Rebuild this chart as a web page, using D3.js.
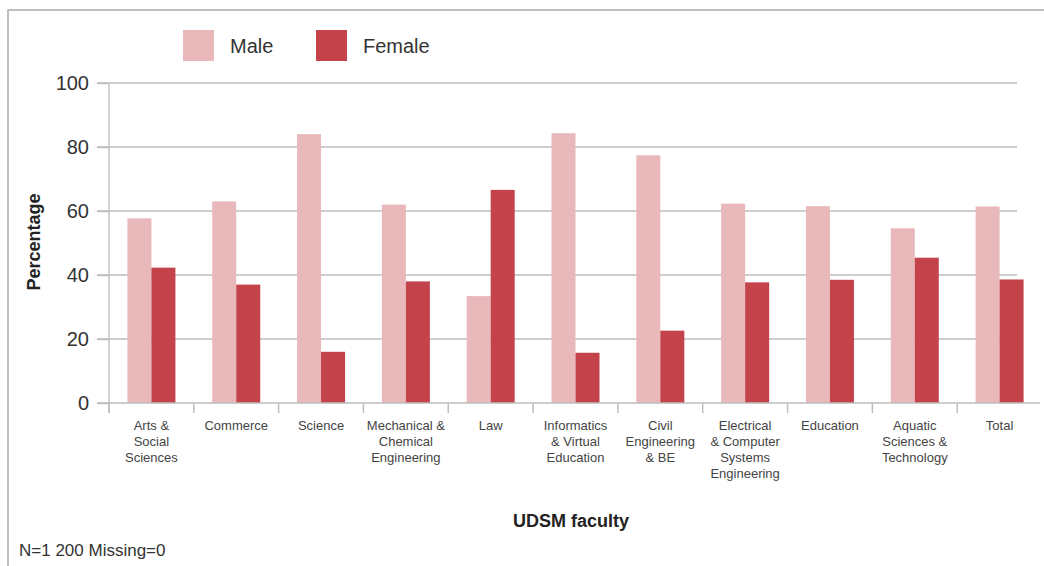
<!DOCTYPE html>
<html>
<head>
<meta charset="utf-8">
<script src="https://cdn.jsdelivr.net/npm/d3@7"></script>
<style>
  body { margin: 0; background: #fff; }
  svg { display: block; font-family: "Liberation Sans", Arial, sans-serif; }
</style>
</head>
<body>
<div id="chart"></div>
<script>
var faculties = [
  ["Arts &", "Social", "Sciences"],
  ["Commerce"],
  ["Science"],
  ["Mechanical &", "Chemical", "Engineering"],
  ["Law"],
  ["Informatics", "& Virtual", "Education"],
  ["Civil", "Engineering", "& BE"],
  ["Electrical", "& Computer", "Systems", "Engineering"],
  ["Education"],
  ["Aquatic", "Sciences &", "Technology"],
  ["Total"]
];
var male   = [57.7, 63.0, 84.0, 62.0, 33.4, 84.3, 77.4, 62.3, 61.5, 54.6, 61.4];
var female = [42.3, 37.0, 16.0, 38.0, 66.6, 15.7, 22.6, 37.7, 38.5, 45.4, 38.6];
var yTicks = [0, 20, 40, 60, 80, 100];
var seriesNames = ["Male", "Female"];
var colors = ["#e8b8bb", "#c4424a"];

var W = 1044, H = 566;
var plotLeft = 109, plotRight = 1042, plotTop = 83, plotBottom = 403;

var svg = d3.select("#chart").append("svg")
    .attr("width", W)
    .attr("height", H);

// frame
svg.append("path")
    .attr("d", "M8,566 L8,10 L1044,10")
    .attr("fill", "none")
    .attr("stroke", "#aaa")
    .attr("stroke-width", 1.5);

var x = d3.scaleBand()
    .domain(d3.range(faculties.length))
    .range([plotLeft, plotRight])
    .paddingInner(0.434)
    .paddingOuter(0.217);

var step = x.step();
var xSub = d3.scaleBand()
    .domain([0, 1])
    .range([0, x.bandwidth()]);

var y = d3.scaleLinear()
    .domain([0, 100])
    .range([plotBottom, plotTop]);

// gridlines
svg.append("g")
    .selectAll("line")
    .data(yTicks.filter(d => d > 0))
    .enter()
    .append("line")
    .attr("x1", plotLeft - 12)
    .attr("x2", 1017)
    .attr("y1", d => y(d))
    .attr("y2", d => y(d))
    .attr("stroke", "#bdbdbd")
    .attr("stroke-width", 1.5);

// bars
var groups = svg.append("g")
    .selectAll("g")
    .data(faculties.map((f, i) => [male[i], female[i]]))
    .enter()
    .append("g")
    .attr("transform", (d, i) => `translate(${x(i)},0)`);

groups.selectAll("rect")
    .data(d => d)
    .enter()
    .append("rect")
    .attr("x", (d, j) => xSub(j))
    .attr("width", xSub.bandwidth())
    .attr("y", d => y(d))
    .attr("height", d => y(0) - y(d))
    .attr("fill", (d, j) => colors[j]);

// y axis
var axisY = svg.append("g")
    .attr("transform", `translate(${plotLeft},0)`)
    .call(d3.axisLeft(y).tickValues(yTicks).tickSize(12).tickPadding(8));
axisY.select(".domain").remove();
axisY.selectAll(".tick line").attr("stroke", "#bdbdbd").attr("stroke-width", 1.5);
axisY.selectAll(".tick text")
    .attr("font-size", 20)
    .attr("fill", "#333")
    .attr("font-family", "Liberation Sans, Arial, sans-serif");

svg.append("line")
    .attr("x1", plotLeft).attr("x2", plotLeft)
    .attr("y1", plotTop).attr("y2", plotBottom + 10)
    .attr("stroke", "#c4c4c4")
    .attr("stroke-width", 1.5);

// x axis
svg.append("line")
    .attr("x1", plotLeft - 12).attr("x2", 1040)
    .attr("y1", plotBottom).attr("y2", plotBottom)
    .attr("stroke", "#bdbdbd")
    .attr("stroke-width", 1.5);

svg.append("g")
    .selectAll("line")
    .data(d3.range(faculties.length))
    .enter()
    .append("line")
    .attr("x1", i => plotLeft + i * step)
    .attr("x2", i => plotLeft + i * step)
    .attr("y1", plotBottom)
    .attr("y2", plotBottom + 10)
    .attr("stroke", "#bdbdbd")
    .attr("stroke-width", 1.5);

var labels = svg.append("g")
    .selectAll("text")
    .data(faculties)
    .enter()
    .append("text")
    .attr("x", (d, i) => x(i) + x.bandwidth() / 2)
    .attr("y", 430)
    .attr("text-anchor", "middle")
    .attr("font-size", 13)
    .attr("fill", "#444");

labels.selectAll("tspan")
    .data(d => d)
    .enter()
    .append("tspan")
    .attr("x", function() { return d3.select(this.parentNode).attr("x"); })
    .attr("dy", (d, k) => k === 0 ? 0 : 16)
    .text(d => d);

// axis titles
svg.append("text")
    .attr("transform", "translate(40,242) rotate(-90)")
    .attr("text-anchor", "middle")
    .attr("font-size", 18)
    .attr("font-weight", "bold")
    .attr("fill", "#222")
    .text("Percentage");

svg.append("text")
    .attr("x", 571)
    .attr("y", 527)
    .attr("text-anchor", "middle")
    .attr("font-size", 18)
    .attr("font-weight", "bold")
    .attr("fill", "#222")
    .text("UDSM faculty");

svg.append("text")
    .attr("x", 19)
    .attr("y", 556)
    .attr("font-size", 17)
    .attr("fill", "#333")
    .text("N=1 200 Missing=0");

// legend
var legendX = [183, 316];
var legend = svg.append("g")
    .selectAll("g")
    .data(seriesNames)
    .enter()
    .append("g")
    .attr("transform", (d, i) => `translate(${legendX[i]},30)`);

legend.append("rect")
    .attr("width", 31)
    .attr("height", 31)
    .attr("fill", (d, i) => colors[i]);

legend.append("text")
    .attr("x", 47)
    .attr("y", 23)
    .attr("font-size", 20)
    .attr("fill", "#333")
    .text(d => d);
</script>
</body>
</html>
